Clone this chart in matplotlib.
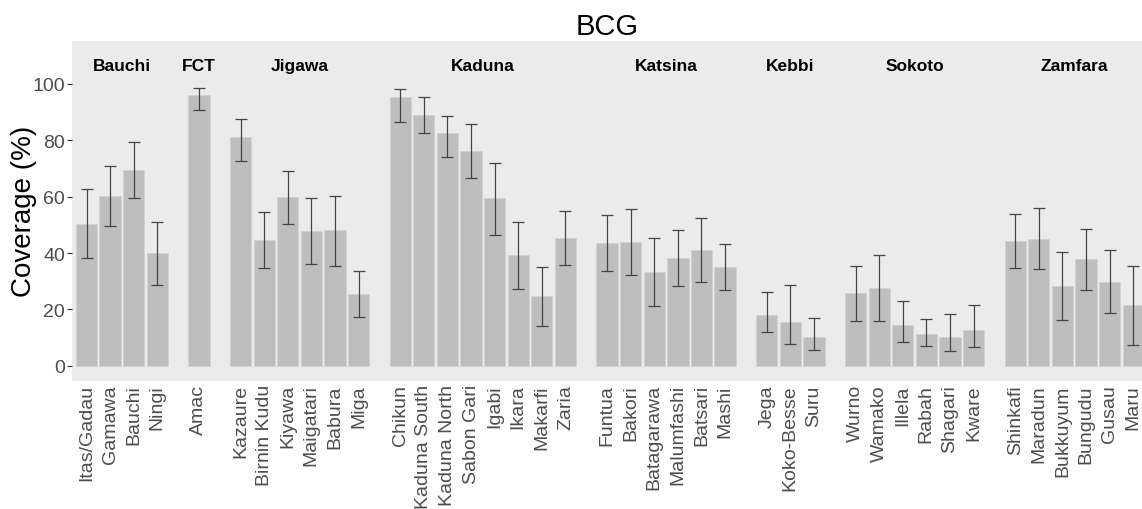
import matplotlib
matplotlib.use("Agg")
import matplotlib.pyplot as plt
import numpy as np

plt.rcParams['font.family'] = ['Liberation Sans', 'DejaVu Sans']

title = "BCG"
ylabel = "Coverage (%)"

states = ["Bauchi", "FCT", "Jigawa", "Kaduna", "Katsina", "Kebbi", "Sokoto", "Zamfara"]

districts = [
    ["Itas/Gadau", "Gamawa", "Bauchi", "Ningi"],
    ["Amac"],
    ["Kazaure", "Birnin Kudu", "Kiyawa", "Maigatari", "Babura", "Miga"],
    ["Chikun", "Kaduna South", "Kaduna North", "Sabon Gari", "Igabi", "Ikara", "Makarfi", "Zaria"],
    ["Funtua", "Bakori", "Batagarawa", "Malumfashi", "Batsari", "Mashi"],
    ["Jega", "Koko-Besse", "Suru"],
    ["Wurno", "Wamako", "Illela", "Rabah", "Shagari", "Kware"],
    ["Shinkafi", "Maradun", "Bukkuyum", "Bungudu", "Gusau", "Maru"],
]

coverage = [
    [50.3, 60.1, 69.6, 40.0],
    [96.2],
    [81.2, 44.6, 59.9, 47.8, 48.0, 25.4],
    [95.3, 89.1, 82.7, 76.1, 59.4, 39.2, 24.6, 45.2],
    [43.6, 44.0, 33.1, 38.2, 41.1, 35.1],
    [18.0, 15.5, 10.2],
    [25.8, 27.6, 14.4, 11.1, 10.2, 12.5],
    [44.3, 45.1, 28.4, 37.8, 29.8, 21.4],
]

upper = [
    [62.8, 70.8, 79.5, 51.1],
    [98.5],
    [87.6, 54.6, 69.2, 59.6, 60.4, 33.5],
    [98.3, 95.5, 88.8, 85.9, 72.1, 51.1, 35.0, 54.9],
    [53.5, 55.5, 45.4, 48.3, 52.4, 43.3],
    [26.3, 28.8, 17.0],
    [35.5, 39.3, 23.1, 16.7, 18.5, 21.7],
    [53.7, 56.0, 40.4, 48.6, 40.9, 35.3],
]

lower = [
    [38.1, 49.7, 59.6, 28.5],
    [90.8],
    [72.5, 34.6, 50.3, 36.0, 35.5, 17.2],
    [86.5, 82.7, 74.0, 66.5, 46.5, 27.1, 14.0, 35.6],
    [33.5, 32.3, 21.1, 28.2, 29.8, 26.7],
    [11.8, 7.6, 5.7],
    [15.7, 15.7, 8.4, 6.9, 5.2, 6.7],
    [34.6, 34.2, 16.2, 26.7, 18.7, 7.2],
]

yticks = [0, 20, 40, 60, 80, 100]

W, H = 1142, 510
fig = plt.figure(figsize=(W / 100, H / 100), dpi=100)

slot = 23.61
x0px = 86.5
gap = 1.762
left_px, right_px = 72, 1146.6
top_px, bot_px = 41.7, 381.7

ax = fig.add_axes([left_px / W, 1 - bot_px / H, (right_px - left_px) / W, (bot_px - top_px) / H])
ax.set_facecolor('#EBEBEB')
for s in ax.spines.values():
    s.set_visible(False)

pos = []
labels = []
vals = []
lo = []
hi = []
centers = []
cur = 0.0
for gi, (names, c, u, l) in enumerate(zip(districts, coverage, upper, lower)):
    if gi > 0:
        cur += gap - 1
    gp = []
    for n, v, uu, ll in zip(names, c, u, l):
        pos.append(cur)
        gp.append(cur)
        labels.append(n)
        vals.append(v)
        hi.append(uu)
        lo.append(ll)
        cur += 1
    centers.append(np.mean(gp))

pos = np.array(pos)
vals = np.array(vals)
hi = np.array(hi)
lo = np.array(lo)

ax.bar(pos, vals, width=0.9, color='#BEBEBE', edgecolor='#D2D2D2', linewidth=0.7, zorder=2)
ax.errorbar(pos, vals, yerr=[vals - lo, hi - vals], fmt='none', ecolor='#444444',
            elinewidth=0.9, capsize=4.5, capthick=0.9, zorder=3)

ax.set_xlim((left_px - x0px) / slot, (right_px - x0px) / slot)
ax.set_ylim(-(bot_px - 366.7) / 2.817, (366.7 - top_px) / 2.817)

for st, cx in zip(states, centers):
    ax.text(cx, (366.7 - 66.7) / 2.817, st, ha='center', va='center',
            fontsize=12.5, fontweight='bold', color='black')

ax.set_xticks(pos)
ax.set_xticklabels(labels, rotation=90, fontsize=14, color='#4D4D4D')
ax.tick_params(axis='x', length=0, pad=2.5)
ax.set_yticks(yticks)
ax.set_yticklabels([str(t) for t in yticks], fontsize=14, color='#4D4D4D')
ax.tick_params(axis='y', length=3.5, width=0.8, color='#333333', pad=1.5)

fig.text(607.5 / W, 1 - 35 / H, title, ha='center', va='baseline', fontsize=21, color='black')
fig.text(24 / W, 1 - 211.7 / H, ylabel, ha='center', va='center', rotation=90,
         fontsize=20, color='black')

fig.savefig('out.png', dpi=100)
